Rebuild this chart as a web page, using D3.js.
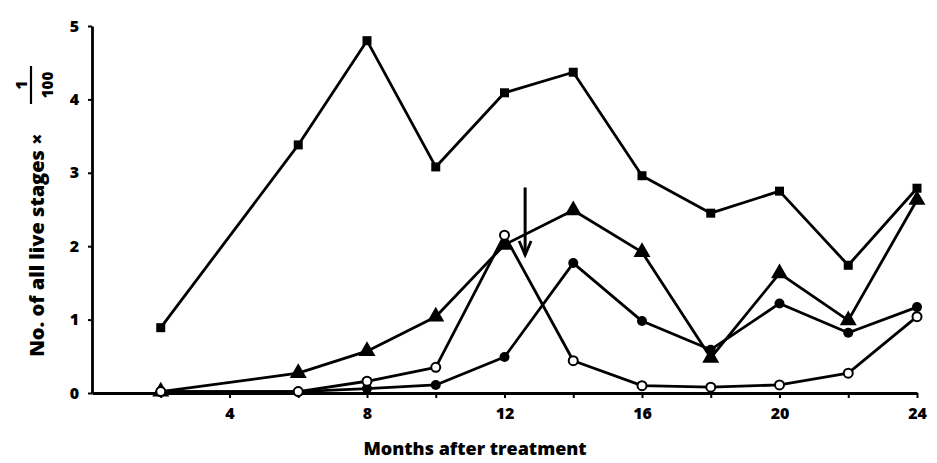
<!DOCTYPE html>
<html>
<head>
<meta charset="utf-8">
<script src="https://cdn.jsdelivr.net/npm/d3@7"></script>
<style>
  body { margin: 0; background: #fff; }
  svg text { font-family: "Open Sans", Lato, sans-serif; font-weight: 800; fill: #000; }
</style>
</head>
<body>
<div id="chart"></div>
<script>
var months = [2, 6, 8, 10, 12, 14, 16, 18, 20, 22, 24];

var squares   = [0.89, 3.38, 4.80, 3.08, 4.09, 4.37, 2.96, 2.45, 2.75, 1.74, 2.79];
var triangles = [0.02, 0.27, 0.57, 1.04, 2.02, 2.49, 1.92, 0.48, 1.63, 0.99, 2.63];
var dots      = [0.02, 0.02, 0.06, 0.11, 0.49, 1.77, 0.98, 0.59, 1.22, 0.82, 1.17];
var rings     = [0.02, 0.02, 0.16, 0.35, 2.15, 0.44, 0.10, 0.08, 0.11, 0.27, 1.04];

var xTicks = [2, 4, 6, 8, 10, 12, 14, 16, 18, 20, 22, 24];
var yTicks = [0, 1, 2, 3, 4, 5];

// arrow: month and the values it runs between
var arrowMonth = 12.6;
var arrowFrom = 2.8;
var arrowTo = 1.88;

var width = 937, height = 463;

var svg = d3.select('#chart').append('svg')
    .attr('width', width)
    .attr('height', height);

var x = d3.scaleLinear().domain([0, 24]).range([92, 917]);
var y = d3.scaleLinear().domain([0, 5]).range([393, 26]);

/* axes */
var xAxis = d3.axisBottom(x)
    .tickValues(xTicks)
    .tickSizeInner(5)
    .tickSizeOuter(0)
    .tickPadding(10)
    .tickFormat(function(d) { return d % 4 === 0 ? d : ''; });

var gx = svg.append('g')
    .attr('transform', 'translate(0,' + y(0) + ')')
    .call(xAxis);

var yAxis = d3.axisLeft(y)
    .tickValues(yTicks)
    .tickSizeInner(4)
    .tickSizeOuter(0)
    .tickPadding(9)
    .tickFormat(d3.format('d'));

var gy = svg.append('g')
    .attr('transform', 'translate(' + x(0) + ',0)')
    .call(yAxis);

[gx, gy].forEach(function(g) {
    g.select('.domain').attr('stroke', '#000').attr('stroke-width', 2.8);
    g.selectAll('.tick line').attr('stroke', '#000').attr('stroke-width', 2);
    g.selectAll('.tick text').style('font-size', '16px');
});

/* axis titles */
svg.append('text')
    .attr('x', 475)
    .attr('y', 455)
    .attr('text-anchor', 'middle')
    .style('font-size', '18px')
    .text('Months after treatment');

var ylab = svg.append('g')
    .attr('transform', 'translate(44,245) rotate(-90)');

ylab.append('text')
    .attr('x', 0)
    .attr('y', 0)
    .attr('text-anchor', 'middle')
    .style('font-size', '20px')
    .text('No. of all live stages ×');

ylab.append('text')
    .attr('x', 160)
    .attr('y', -17)
    .attr('text-anchor', 'middle')
    .style('font-size', '15px')
    .text('1');

ylab.append('line')
    .attr('x1', 141).attr('x2', 179)
    .attr('y1', -13).attr('y2', -13)
    .attr('stroke', '#000')
    .attr('stroke-width', 2.2);

ylab.append('text')
    .attr('x', 160)
    .attr('y', 9)
    .attr('text-anchor', 'middle')
    .style('font-size', '15px')
    .text('100');

/* series */
var line = d3.line()
    .x(function(d) { return x(d[0]); })
    .y(function(d) { return y(d[1]); });

function pairs(values) {
    return months.map(function(m, i) { return [m, values[i]]; });
}

var series = [
    {values: squares, marker: 'square'},
    {values: triangles, marker: 'triangle'},
    {values: dots, marker: 'dot'},
    {values: rings, marker: 'ring'}
];

series.forEach(function(s) {
    svg.append('path')
        .datum(pairs(s.values))
        .attr('fill', 'none')
        .attr('stroke', '#000')
        .attr('stroke-width', 2.8)
        .attr('stroke-linejoin', 'round')
        .attr('d', line);
});

series.forEach(function(s) {
    var g = svg.append('g');
    var pts = g.selectAll('.pt')
        .data(pairs(s.values))
        .enter();

    if (s.marker == 'square')
    {
        pts.append('rect')
            .attr('x', function(d) { return x(d[0]) - 4.5; })
            .attr('y', function(d) { return y(d[1]) - 4.5; })
            .attr('width', 9)
            .attr('height', 9)
            .attr('fill', '#000');
    }
    else if (s.marker == 'triangle')
    {
        var tri = d3.symbol().type(d3.symbolTriangle).size(125);
        pts.append('path')
            .attr('d', tri)
            .attr('transform', function(d) {
                return 'translate(' + x(d[0]) + ',' + y(d[1]) + ')';
            })
            .attr('fill', '#000');
    }
    else if (s.marker == 'dot')
    {
        pts.append('circle')
            .attr('cx', function(d) { return x(d[0]); })
            .attr('cy', function(d) { return y(d[1]); })
            .attr('r', 5)
            .attr('fill', '#000');
    }
    else
    {
        pts.append('circle')
            .attr('cx', function(d) { return x(d[0]); })
            .attr('cy', function(d) { return y(d[1]); })
            .attr('r', 4.5)
            .attr('fill', '#fff')
            .attr('stroke', '#000')
            .attr('stroke-width', 2);
    }
});

/* arrow */
var ax = x(arrowMonth);
svg.append('line')
    .attr('x1', ax).attr('x2', ax)
    .attr('y1', y(arrowFrom)).attr('y2', y(arrowTo))
    .attr('stroke', '#000')
    .attr('stroke-width', 3);

svg.append('path')
    .attr('d', 'M' + (ax - 6) + ',' + (y(arrowTo) - 14) +
               ' L' + ax + ',' + y(arrowTo) +
               ' L' + (ax + 6) + ',' + (y(arrowTo) - 14))
    .attr('fill', 'none')
    .attr('stroke', '#000')
    .attr('stroke-width', 2.8);
</script>
</body>
</html>
